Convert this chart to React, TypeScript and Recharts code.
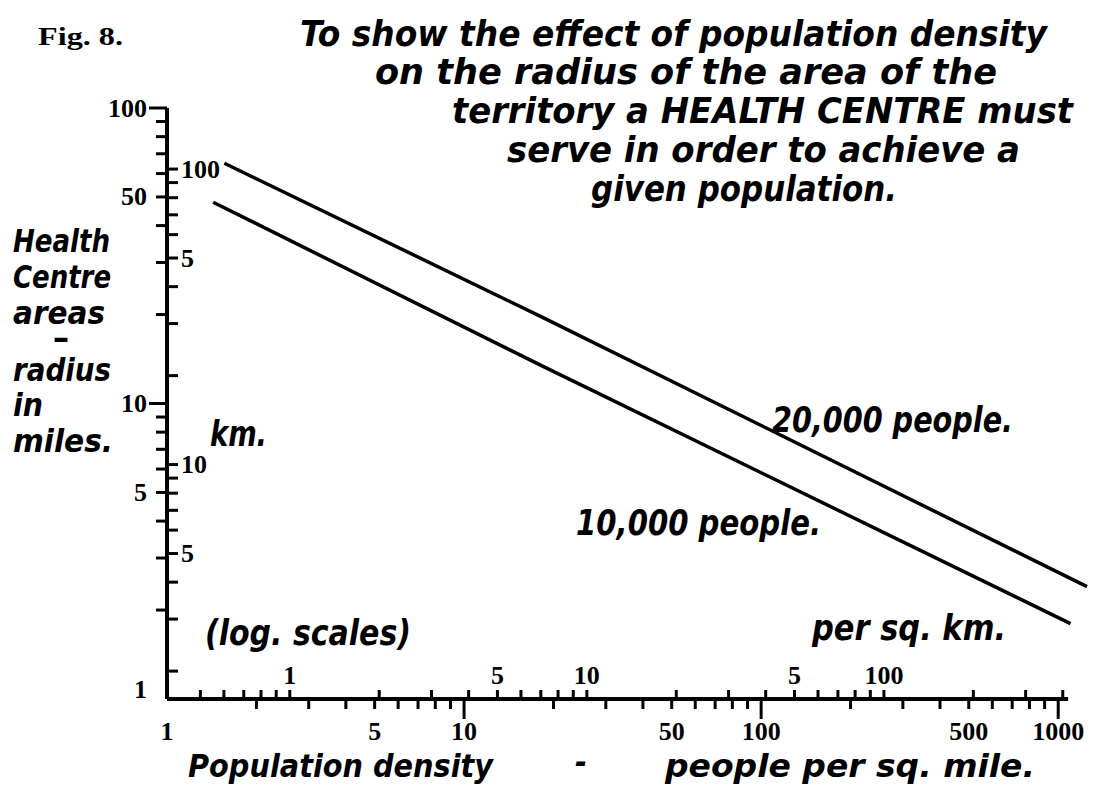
import { LineChart, Line, XAxis, YAxis, ReferenceLine } from "recharts";

// population density (people per sq. mile) and radius (miles)
const density20k = [1.56, 18.3, 1250];
const radius20k = [65, 19.6, 2.4];
const density10k = [1.43, 18.3, 1100];
const radius10k = [48, 13.4, 1.8];

// miles scales
const mileTicksX = [1, 2, 3, 4, 5, 6, 7, 8, 9, 10, 20, 30, 40, 50, 60, 70, 80, 90, 100, 200, 300, 400, 500, 600, 700, 800, 900, 1000];
const mileLabelsX = [1, 5, 10, 50, 100, 500, 1000];
const mileTicksY = [1, 2, 3, 4, 5, 6, 7, 8, 9, 10, 20, 30, 40, 50, 60, 70, 80, 90, 100];
const mileLabelsY = [1, 5, 10, 50, 100];

// km scales (printed on the inside of the axes)
const kmTicksX = [0.5, 0.6, 0.7, 0.8, 0.9, 1, 2, 3, 4, 5, 6, 7, 8, 9, 10, 20, 30, 40, 50, 60, 70, 80, 90, 100, 200, 300, 400];
const kmLabelValuesX = [1, 5, 10, 50, 100];
const kmLabelTextX = ["1", "5", "10", "5", "100"];
const kmTicksY = [2, 3, 4, 5, 6, 7, 8, 9, 10, 20, 30, 40, 50, 60, 70, 80, 90, 100];
const kmLabelValuesY = [5, 10, 50, 100];
const kmLabelTextY = ["5", "10", "5", "100"];

const SQMI_SQKM = 2.589988;
const MILE_KM = 1.609344;
const X_MAX = 1250;

// per sq. km ticks expressed on the per sq. mile axis
const kmTicksXOnMiles = kmTicksX.map((v) => v * SQMI_SQKM);

const titleLines = [
    { text: "To show the effect of population density", x: 300, y: 46, w: 747 },
    { text: "on the radius of the area of the", x: 375, y: 84, w: 622 },
    { text: "territory a HEALTH CENTRE must", x: 452, y: 123, w: 621 },
    { text: "serve in order to achieve a", x: 507, y: 162, w: 513 },
    { text: "given population.", x: 591, y: 201, w: 306 },
];

const yTitle = [
    { text: "Health", x: 13, y: 252, w: 97 },
    { text: "Centre", x: 13, y: 288, w: 98 },
    { text: "areas", x: 13, y: 324, w: 92 },
    { text: "radius", x: 13, y: 381, w: 98 },
    { text: "in", x: 13, y: 416, w: 30 },
    { text: "miles.", x: 13, y: 452, w: 100 },
];

const SERIF = "'Liberation Serif','DejaVu Serif',serif";
const COND = "'DejaVu Sans Condensed','Liberation Sans Narrow','Liberation Sans',sans-serif";

const TickText = ({ x, y, anchor, base, children }: any) => (
    <text x={x} y={y} textAnchor={anchor} dominantBaseline={base} fontFamily={SERIF} fontWeight="bold" fontSize={26} fill="#000">
        {children}
    </text>
);

const DensityTick = (props: any) => {
    const { x, y, payload } = props;
    const v = payload.value;
    const k = kmTicksXOnMiles.indexOf(v);
    if (k >= 0) {
        const i = kmLabelValuesX.indexOf(kmTicksX[k]);
        return (
            <g>
                <line x1={x} y1={y} x2={x} y2={y - 9} stroke="#000" strokeWidth={3} />
                {i >= 0 && <TickText x={x} y={y - 15} anchor="middle">{kmLabelTextX[i]}</TickText>}
            </g>
        );
    }
    const major = v === 10 || v === 100 || v === 1000;
    return (
        <g>
            {v !== 1 && <line x1={x} y1={y} x2={x} y2={y + (major ? 20 : 10)} stroke="#000" strokeWidth={3} />}
            {mileLabelsX.includes(v) && <TickText x={x} y={y + 41} anchor="middle">{v}</TickText>}
        </g>
    );
};

const MileTickY = (props: any) => {
    const { x, y, payload } = props;
    const v = payload.value;
    const major = v === 10 || v === 100;
    return (
        <g>
            {v !== 1 && <line x1={x} y1={y} x2={x - (major ? 18 : 11)} y2={y} stroke="#000" strokeWidth={3} />}
            {mileLabelsY.includes(v) && (
                <TickText x={x - 20} y={v === 1 ? y - 10 : y} anchor="end" base="central">{v}</TickText>
            )}
        </g>
    );
};

const KmTickY = (props: any) => {
    const { x, y, payload } = props;
    const v = payload.value;
    const i = kmLabelValuesY.indexOf(v);
    return (
        <g>
            <line x1={x} y1={y} x2={x + 11} y2={y} stroke="#000" strokeWidth={3} />
            {i >= 0 && <TickText x={x + 14} y={y} anchor="start" base="central">{kmLabelTextY[i]}</TickText>}
        </g>
    );
};

const Label = ({ text, x, y, w, size = 36 }: { text: string; x: number; y: number; w: number; size?: number }) => (
    <text x={x} y={y} textLength={w} lengthAdjust="spacingAndGlyphs" fontFamily={COND} fontWeight="bold" fontStyle="italic" fontSize={size} fill="#000">
        {text}
    </text>
);

export default function App() {
    const data20k = density20k.map((d, i) => ({ d, r: radius20k[i] }));
    const data10k = density10k.map((d, i) => ({ d, r: radius10k[i] }));

    return (
        <div style={{ position: "absolute", left: 0, top: 0, width: 1108, height: 785, background: "#fff" }}>
            <LineChart width={1108} height={785} margin={{ top: 108, right: 21, left: 107, bottom: 26 }}>
                <XAxis
                    dataKey="d"
                    type="number"
                    scale="log"
                    domain={[1, X_MAX]}
                    ticks={[...mileTicksX, ...kmTicksXOnMiles]}
                    interval={0}
                    height={60}
                    tickSize={0}
                    tickMargin={0}
                    tickLine={false}
                    axisLine={false}
                    tick={<DensityTick />}
                />
                <YAxis
                    type="number"
                    scale="log"
                    domain={[1, 100]}
                    ticks={mileTicksY}
                    interval={0}
                    width={60}
                    tickSize={0}
                    tickMargin={0}
                    tickLine={false}
                    axisLine={{ stroke: "#000", strokeWidth: 4 }}
                    tick={<MileTickY />}
                />
                <YAxis
                    yAxisId="km"
                    type="number"
                    scale="log"
                    domain={[MILE_KM, 100 * MILE_KM]}
                    allowDataOverflow
                    ticks={kmTicksY}
                    interval={0}
                    mirror
                    width={1}
                    tickSize={0}
                    tickMargin={0}
                    tickLine={false}
                    axisLine={false}
                    tick={<KmTickY />}
                />
                <ReferenceLine segment={[{ x: 1, y: 1 }, { x: 1080, y: 1 }]} stroke="#000" strokeWidth={4} />
                <Line data={data20k} dataKey="r" type="linear" stroke="#000" strokeWidth={3.5} dot={false} activeDot={false} isAnimationActive={false} />
                <Line data={data10k} dataKey="r" type="linear" stroke="#000" strokeWidth={3.5} dot={false} activeDot={false} isAnimationActive={false} />
            </LineChart>
            <svg width={1108} height={785} style={{ position: "absolute", left: 0, top: 0, pointerEvents: "none" }}>
                <text x={38} y={45} textLength={85} lengthAdjust="spacingAndGlyphs" fontFamily={SERIF} fontWeight="bold" fontSize={25} fill="#000">Fig. 8.</text>
                {titleLines.map((l) => <Label key={l.text} {...l} />)}
                {yTitle.map((l) => <Label key={l.text} {...l} size={32} />)}
                <text x={55} y={344} textLength={12} lengthAdjust="spacingAndGlyphs" fontFamily={COND} fontWeight="bold" fontSize={16} stroke="#000" strokeWidth={2} fill="#000">-</text>
                <Label text="km." x={210} y={446} w={57} />
                <Label text="20,000 people." x={772} y={432} w={241} />
                <Label text="10,000 people." x={576} y={535} w={245} />
                <Label text="(log. scales)" x={205} y={645} w={206} />
                <Label text="per sq. km." x={812} y={640} w={194} />
                <Label text="Population density" x={188} y={777} w={305} size={32} />
                <Label text="-" x={575} y={773} w={12} size={32} />
                <Label text="people per sq. mile." x={665} y={777} w={370} size={32} />
            </svg>
        </div>
    );
}
